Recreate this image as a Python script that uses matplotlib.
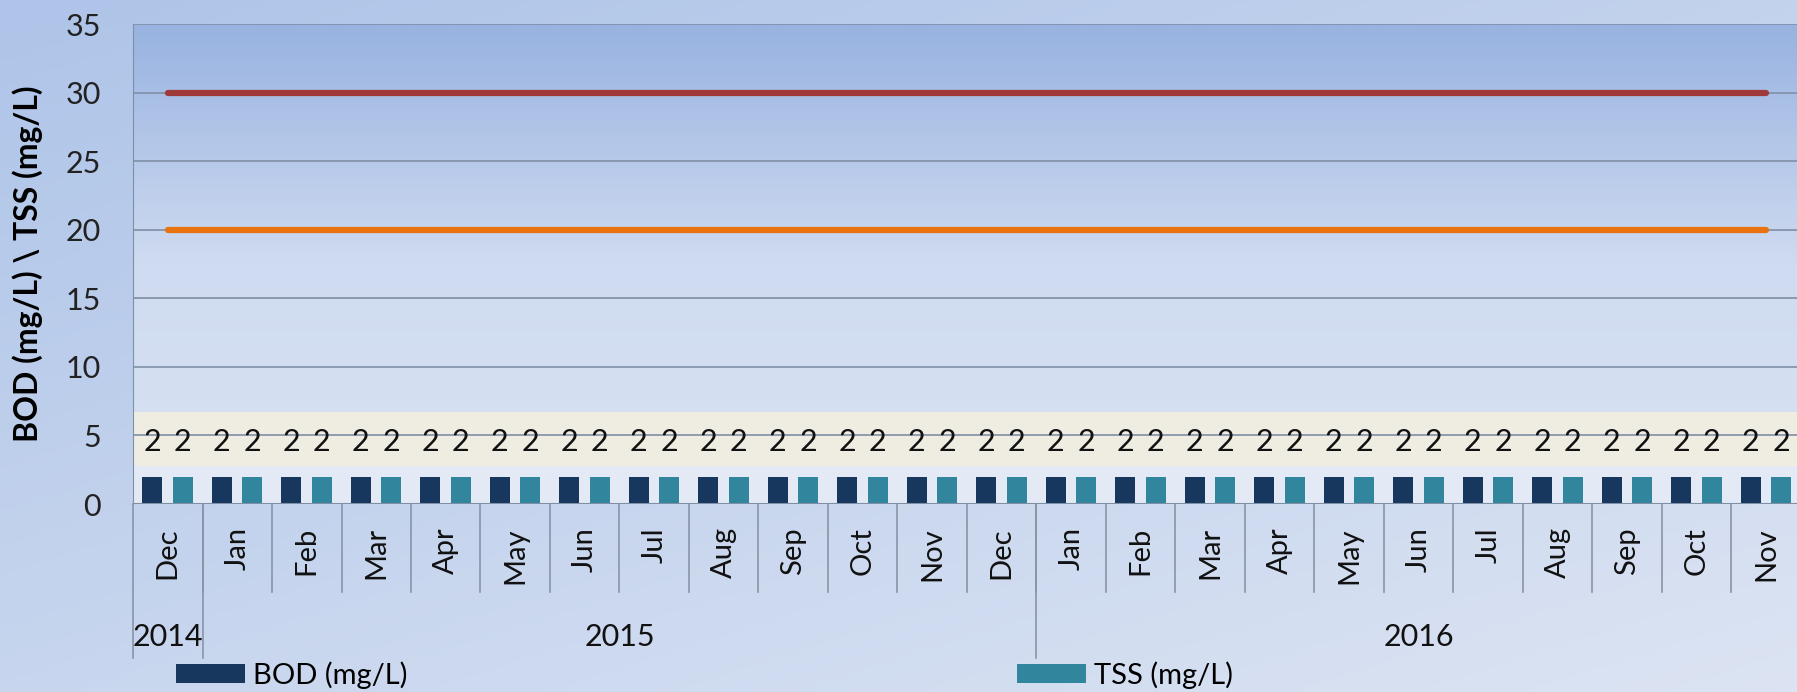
import numpy as np
import matplotlib.pyplot as plt
from matplotlib.colors import LinearSegmentedColormap

plt.rcParams['font.family'] = ['Lato', 'DejaVu Sans']

# Data
months = ['Dec', 'Jan', 'Feb', 'Mar', 'Apr', 'May', 'Jun', 'Jul', 'Aug', 'Sep', 'Oct', 'Nov',
          'Dec', 'Jan', 'Feb', 'Mar', 'Apr', 'May', 'Jun', 'Jul', 'Aug', 'Sep', 'Oct', 'Nov']
years = ['2014', '2015', '2016']
year_counts = [1, 12, 11]
bod = [2] * 24
tss = [2] * 24
limit_30 = [30] * 24
limit_20 = [20] * 24

W, H = 1797, 692
fig = plt.figure(figsize=(W / 100, H / 100), dpi=100)

# figure background gradient (darker top-left, lighter bottom-right)
bg = fig.add_axes([0, 0, 1, 1], zorder=-10)
gx, gy = np.meshgrid(np.linspace(0, 1, 200), np.linspace(0, 1, 200))
g = 0.55 * (1 - gy) + 0.45 * gx
cmap_bg = LinearSegmentedColormap.from_list('bg', ['#AEC4E8', '#DCE4F3'])
bg.imshow(g, cmap=cmap_bg, aspect='auto', extent=[0, 1, 0, 1], origin='lower')
bg.axis('off')

# axes in pixel terms: left 133, right ~1801, top 24, zero line 504
ax = fig.add_axes([133 / W, (H - 504) / H, 1668 / W, 480 / H])
ax.patch.set_alpha(0)

x = np.arange(len(months))
ax.set_xlim(-0.5, len(months) - 0.5)
ax.set_ylim(0, 35)

# plot area gradient
cmap_pa = LinearSegmentedColormap.from_list('pa', ['#D8E2F3', '#CFDBF0', '#98B3E1'])
grad = np.linspace(0, 1, 256).reshape(-1, 1)
ax.imshow(grad, cmap=cmap_pa, aspect='auto', extent=[-0.5, len(months) - 0.5, 0, 35],
          origin='lower', zorder=0)
ax.axhspan(0, 2.8, color='#E3EAF5', zorder=0.5, lw=0)
ax.axhspan(2.8, 6.7, color='#EFEDE2', zorder=0.5, lw=0)

for yv in range(5, 40, 5):
    ax.axhline(yv, color='#7F8FA6', lw=1.2, zorder=1)

w = 0.29
b1 = ax.bar(x - 0.225, bod, width=w, color='#17375E', zorder=3, label='BOD (mg/L)')
b2 = ax.bar(x + 0.215, tss, width=w, color='#31859C', zorder=3, label='TSS (mg/L)')
for xi, v in zip(x, bod):
    ax.text(xi - 0.225, 4.5, str(v), ha='center', va='center', fontsize=22, color='#111111', zorder=4)
for xi, v in zip(x, tss):
    ax.text(xi + 0.215, 4.5, str(v), ha='center', va='center', fontsize=22, color='#111111', zorder=4)

ax.plot(x, limit_30, color='#A0393A', lw=4.5, solid_capstyle='round', zorder=3)
ax.plot(x, limit_20, color='#E8730F', lw=4.5, solid_capstyle='round', zorder=3)

for s in ['top', 'right', 'bottom']:
    ax.spines[s].set_visible(False)
ax.spines['left'].set_color('#7F8FA6')
ax.axhline(0, color='#7F8FA6', lw=1.5, zorder=5)

ax.set_yticks(range(0, 40, 5))
ax.tick_params(axis='y', length=0, pad=23, labelsize=22, labelcolor='#222222')
ax.set_xticks([])
ax.set_ylabel('BOD (mg/L) \\ TSS (mg/L)', fontsize=23, fontweight='bold')
ax.yaxis.set_label_coords(-0.054, 0.5)

# category labels and dividers
tr = ax.get_xaxis_transform()
for xi, m in zip(x, months):
    ax.text(xi, -0.048, m, rotation=90, ha='center', va='top', fontsize=21,
            color='#111111', transform=tr, clip_on=False)
for xi in range(1, len(months)):
    ax.plot([xi - 0.5, xi - 0.5], [0, -0.183], color='#8A94A6', lw=1.2,
            transform=tr, clip_on=False)
start = -0.5
for yr, n in zip(years, year_counts):
    ax.plot([start, start], [0, -0.321], color='#8A94A6', lw=1.2, transform=tr, clip_on=False)
    ax.text(start + n / 2, -0.277, yr, ha='center', va='center', fontsize=22,
            color='#111111', transform=tr, clip_on=False)
    start += n

# legend
for h, xa in [(b1, 176 / W), (b2, 1017 / W)]:
    fig.legend(handles=[h], loc='center left', bbox_to_anchor=(xa, (H - 675) / H),
               frameon=False, fontsize=21, handlelength=2.35, handleheight=0.6,
               handletextpad=0.3, borderpad=0, borderaxespad=0)

fig.savefig('out.png', dpi=100)
